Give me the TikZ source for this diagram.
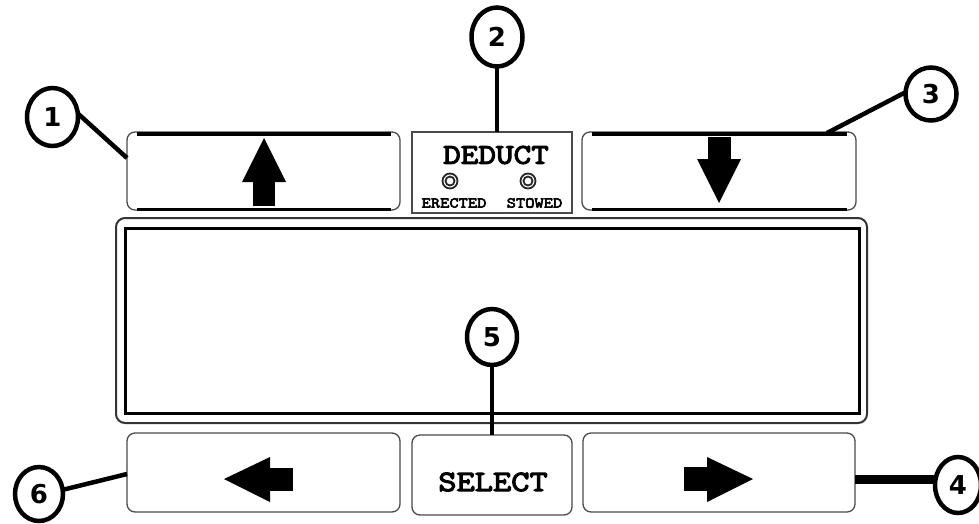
\documentclass[tikz,border=0pt]{standalone}
\usepackage{fontspec}
\usetikzlibrary{shapes.geometric,calc}
\newfontfamily\numfont{DejaVu Sans}
\newfontfamily\panelfont{Latin Modern Mono}[FakeBold=4,FakeStretch=1.2]
\definecolor{thin}{HTML}{4A4A4A}
\tikzset{
  num/.style={ellipse,draw=black,line width=4.5pt,inner sep=0pt,outer sep=0pt,font=\numfont\bfseries\fontsize{26}{26}\selectfont},
  lead/.style={line width=4.5pt,black},
  key/.style={rectangle,rounded corners=8pt,draw=thin,line width=1.3pt,inner sep=0pt,outer sep=0pt},
  deduct/.style={rectangle,draw=thin,line width=1.3pt,inner sep=0pt,outer sep=0pt},
  bar/.style={line width=4pt,black},
  lbl/.style={inner sep=0pt,font=\panelfont\fontsize{#1}{#1}\selectfont},
  led/.style={circle,draw=black!85,line width=1.8pt,inner sep=0pt},
}
\begin{document}
\begin{tikzpicture}[x=1pt,y=-1pt]
\useasboundingbox (0,0) rectangle (979,523);
% top row keys
\node[key,minimum width=273pt,minimum height=78pt] (b1) at (263.5,171) {};
\node[key,minimum width=274pt,minimum height=78pt] (b3) at (719,171) {};
\node[deduct,minimum width=160pt,minimum height=81pt] (b2) at (492,172.5) {};
\draw[bar] ($(b1.north west)+(10,2)$) -- ($(b1.north east)+(-9,2)$);
\draw[line width=3pt] ($(b1.south west)+(10,-1)$) -- ($(b1.south east)+(-9,-1)$);
\draw[bar] ($(b3.north west)+(10,2)$) -- ($(b3.north east)+(-9,2)$);
\draw[line width=3pt] ($(b3.south west)+(10,-1)$) -- ($(b3.south east)+(-9,-1)$);
% arrows
\fill (264,138) -- (242,182) -- (286,182) -- cycle;
\fill (253,181) rectangle (275,206);
\fill (708,137) rectangle (731,160);
\fill (697,159) -- (741,159) -- (719,203) -- cycle;
% deduct panel
\node[lbl=28.5] (dt) at (496,155) {DEDUCT};
\node[led,minimum size=15pt] (l1) at (450,181) {};
\node[led,minimum size=9pt] at (l1) {};
\node[led,minimum size=15pt] (l2) at (528,181) {};
\node[led,minimum size=9pt] at (l2) {};
\node[lbl=15] (er) at (454,203) {ERECTED};
\node[lbl=15] (st) at (534.5,203) {STOWED};
% display
\node[key,rounded corners=9pt,draw=black!80,line width=2pt,minimum width=751pt,minimum height=205pt] (disp) at (491.5,320.5) {};
\draw[line width=3pt] (125,228) rectangle (859,413);
% bottom row
\node[key,minimum width=273pt,minimum height=79pt] (b6) at (263.5,472.5) {};
\node[key,minimum width=160pt,minimum height=80pt] (b5) at (492,475) {};
\node[lbl=29.5] (sel) at (493,482) {SELECT};
\node[key,minimum width=272pt,minimum height=79pt] (b4) at (719,472.5) {};
\fill (224,479) -- (270,457) -- (270,502) -- cycle;
\fill (269,468) rectangle (293,491);
\fill (684,467) rectangle (708,491);
\fill (707,457) -- (707,502) -- (753,479) -- cycle;
% callouts
\node[num,minimum width=51pt,minimum height=58pt] (c1) at (52.5,117) {1};
\node[num,minimum width=51pt,minimum height=59pt] (c2) at (497,37) {2};
\node[num,minimum width=51pt,minimum height=53pt] (c3) at (931,94) {3};
\node[num,minimum width=46pt,minimum height=56pt] (c4) at (958,485) {4};
\node[num,minimum width=50pt,minimum height=56pt] (c5) at (492,337) {5};
\node[num,minimum width=48pt,minimum height=54pt] (c6) at (39,494) {6};
\coordinate (p1) at (127,158);
\coordinate (p3) at (827,133);
\coordinate (p4) at (855,479);
\coordinate (p6) at (127,474);
\draw[lead] (c1.8) -- (p1);
\draw[lead] (c2.south) -- (c2.south |- b2.north);
\draw[lead] (c3.176) -- (p3);
\draw[line width=9pt] (p4) -- (c4.west |- p4);
\draw[lead] (c5.south) -- (c5.south |- b5.north);
\draw[lead] (c6.10) -- (p6);
\end{tikzpicture}
\end{document}
